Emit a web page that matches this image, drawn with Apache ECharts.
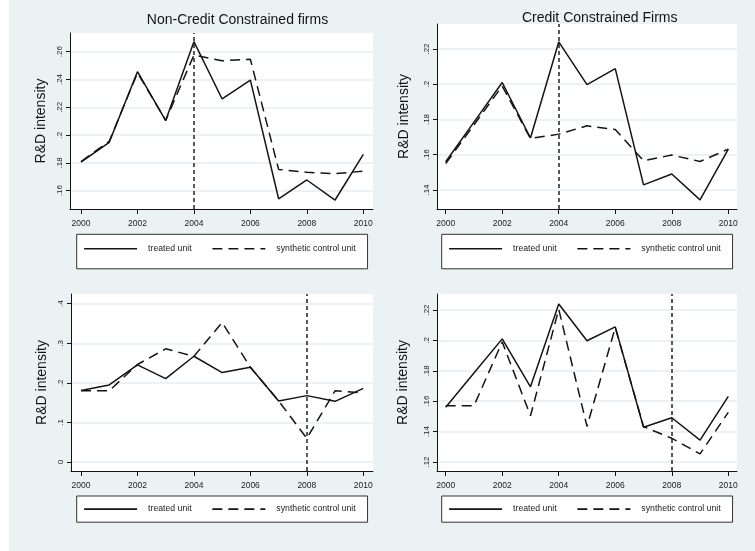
<!DOCTYPE html>
<html>
<head>
<meta charset="utf-8">
<script src="https://cdn.jsdelivr.net/npm/echarts@6/dist/echarts.min.js"></script>
<style>
  html, body { margin: 0; padding: 0; background: #fff; }
  #chart { width: 755px; height: 551px; }
</style>
</head>
<body>
<div id="chart"></div>
<script>
// Years on the horizontal axis
const years = [2000, 2001, 2002, 2003, 2004, 2005, 2006, 2007, 2008, 2009, 2010];

// R&D intensity, non-credit-constrained firms
const treatedNonCC = [0.1805, 0.1948, 0.2456, 0.2105, 0.2672, 0.2260, 0.2395, 0.1542, 0.1677, 0.1533, 0.1862];
const synthNonCC2004 = [0.1810, 0.1955, 0.2448, 0.2106, 0.2576, 0.2535, 0.2545, 0.1753, 0.1732, 0.1722, 0.1741];
const synthNonCC2008 = [0.1800, 0.1800, 0.2463, 0.2860, 0.2670, 0.3524, 0.2395, 0.1545, 0.0597, 0.1798, 0.1748];

// R&D intensity, credit-constrained firms
const treatedCC = [0.1560, 0.1785, 0.2010, 0.1695, 0.2240, 0.1998, 0.2089, 0.1429, 0.1491, 0.1344, 0.1632];
const synthCC2004 = [0.1550, 0.1770, 0.1990, 0.1692, 0.1717, 0.1764, 0.1743, 0.1566, 0.1598, 0.1562, 0.1632];
const synthCC2008 = [0.1570, 0.1570, 0.1990, 0.1504, 0.2205, 0.1434, 0.2085, 0.1433, 0.1356, 0.1253, 0.1527];

// Tick labels
const xTicks = [2000, 2002, 2004, 2006, 2008, 2010];
const yTicksTL = [0.16, 0.18, 0.20, 0.22, 0.24, 0.26];
const yTicksTR = [0.14, 0.16, 0.18, 0.20, 0.22];
const yTicksBL = [0, 0.1, 0.2, 0.3, 0.4];
const yTicksBR = [0.12, 0.14, 0.16, 0.18, 0.20, 0.22];

// Treatment years marked with a vertical dashed line
const eventYears = [2004, 2004, 2008, 2008];

const titles = ['Non-Credit Constrained firms', 'Credit Constrained Firms'];
const yName = 'R&D intensity';
const legendNames = ['treated unit', 'synthetic control unit'];

const FONT = '"Liberation Sans", Arial, Helvetica, sans-serif';
const INK = '#141414';

function fmtY(v) {
  if (Math.abs(v) < 1e-9) return '0';
  return String(Math.round(v * 100) / 100).replace(/^0\./, '.');
}

// Panel layout: grid box, axis ranges, legend box
const panels = [
  { grid: { left: 70, top: 33, width: 303, height: 176 }, x: [1999.6103, 2010.3436], y: [0.146835, 0.273457],
    yTicks: yTicksTL, treated: treatedNonCC, synth: synthNonCC2004, nameGap: 22,
    legend: { left: 76.7, top: 234.3, padding: [10, 12, 15.5, 6.6] } },
  { grid: { left: 437, top: 24, width: 300, height: 185 }, x: [1999.6921, 2010.3078], y: [0.12922, 0.23418],
    yTicks: yTicksTR, treated: treatedCC, synth: synthCC2004, nameGap: 26,
    legend: { left: 441.7, top: 234.3, padding: [10, 12, 15.5, 6.6] } },
  { grid: { left: 71, top: 294, width: 302, height: 177 }, x: [1999.6458, 2010.3437], y: [-0.02274, 0.42451],
    yTicks: yTicksBL, treated: treatedNonCC, synth: synthNonCC2008, nameGap: 22,
    legend: { left: 76.7, top: 496, padding: [8.6, 12, 8.6, 6.6] } },
  { grid: { left: 437, top: 294, width: 300, height: 177 }, x: [1999.6921, 2010.3078], y: [0.11408, 0.23053],
    yTicks: yTicksBR, treated: treatedCC, synth: synthCC2008, nameGap: 27,
    legend: { left: 441.7, top: 496, padding: [8.6, 12, 8.6, 6.6] } }
];

const grid = [], xAxis = [], yAxis = [], series = [], legend = [];

panels.forEach((p, i) => {
  grid.push(Object.assign({ show: true, backgroundColor: '#ffffff', borderWidth: 0 }, p.grid));

  xAxis.push({
    type: 'value', gridIndex: i, min: p.x[0], max: p.x[1],
    axisLine: { onZero: false, lineStyle: { color: INK, width: 1 } },
    axisTick: { show: true, inside: false, length: 5, customValues: xTicks, lineStyle: { color: INK } },
    axisLabel: { customValues: xTicks, formatter: v => String(v), fontSize: 8.5, color: '#222', fontFamily: FONT, margin: 10 },
    splitLine: { show: false }
  });

  yAxis.push({
    type: 'value', gridIndex: i, min: p.y[0], max: p.y[1],
    name: yName, nameLocation: 'middle', nameRotate: 90, nameGap: p.nameGap,
    nameTextStyle: { fontSize: 14, color: INK, fontFamily: FONT },
    axisLine: { show: true, onZero: false, lineStyle: { color: INK, width: 1 } },
    axisTick: { show: true, length: 4, customValues: p.yTicks, lineStyle: { color: INK } },
    axisLabel: { customValues: p.yTicks, formatter: fmtY, rotate: 90, fontSize: 8, color: '#222', fontFamily: FONT, margin: 6 },
    splitLine: { show: true, lineStyle: { color: '#e4edf0', width: 1.5 } }
  });

  const pairs = v => years.map((yr, k) => [yr, v[k]]);

  series.push({
    name: legendNames[0], type: 'line', xAxisIndex: i, yAxisIndex: i,
    data: pairs(p.treated), symbol: 'none', silent: true,
    itemStyle: { color: INK },
    lineStyle: { color: INK, width: 1.5, type: 'solid' },
    markLine: {
      silent: true, symbol: ['none', 'none'], label: { show: false },
      lineStyle: { color: '#222', width: 1.5, type: [4, 3] },
      data: [{ xAxis: eventYears[i] }]
    },
    z: 3
  });
  series.push({
    name: legendNames[1], type: 'line', xAxisIndex: i, yAxisIndex: i,
    data: pairs(p.synth), symbol: 'none', silent: true,
    itemStyle: { color: INK },
    lineStyle: { color: INK, width: 1.5, type: [10, 6] },
    z: 3
  });

  legend.push({
    data: legendNames, orient: 'horizontal', left: p.legend.left, top: p.legend.top,
    padding: p.legend.padding, backgroundColor: '#ffffff', borderColor: '#333', borderWidth: 1,
    itemWidth: 53, itemHeight: 9, itemGap: 20, selectedMode: false,
    // legend keys show only the line pattern
    itemStyle: { color: 'rgba(0,0,0,0)', borderColor: 'rgba(0,0,0,0)', borderWidth: 0, opacity: 0 },
    lineStyle: { color: INK, width: 1.6 },
    textStyle: { fontSize: 8.7, color: '#222', fontFamily: FONT, padding: [0, 0, 0, 6] }
  });
});

const option = {
  animation: false,
  backgroundColor: '#eaf2f3',
  title: [
    { text: titles[0], left: 232.5, top: 8, textAlign: 'center',
      textStyle: { fontSize: 14, fontWeight: 'normal', color: INK, fontFamily: FONT } },
    { text: titles[1], left: 594.7, top: 6.5, textAlign: 'center',
      textStyle: { fontSize: 14, fontWeight: 'normal', color: INK, fontFamily: FONT } }
  ],
  graphic: [
    { type: 'rect', left: 0, top: 0, shape: { width: 9, height: 551 }, style: { fill: '#ffffff' }, silent: true }
  ],
  grid, xAxis, yAxis, series, legend
};

const chart = echarts.init(document.getElementById('chart'), null, { renderer: 'canvas' });
chart.setOption(option);
</script>
</body>
</html>
